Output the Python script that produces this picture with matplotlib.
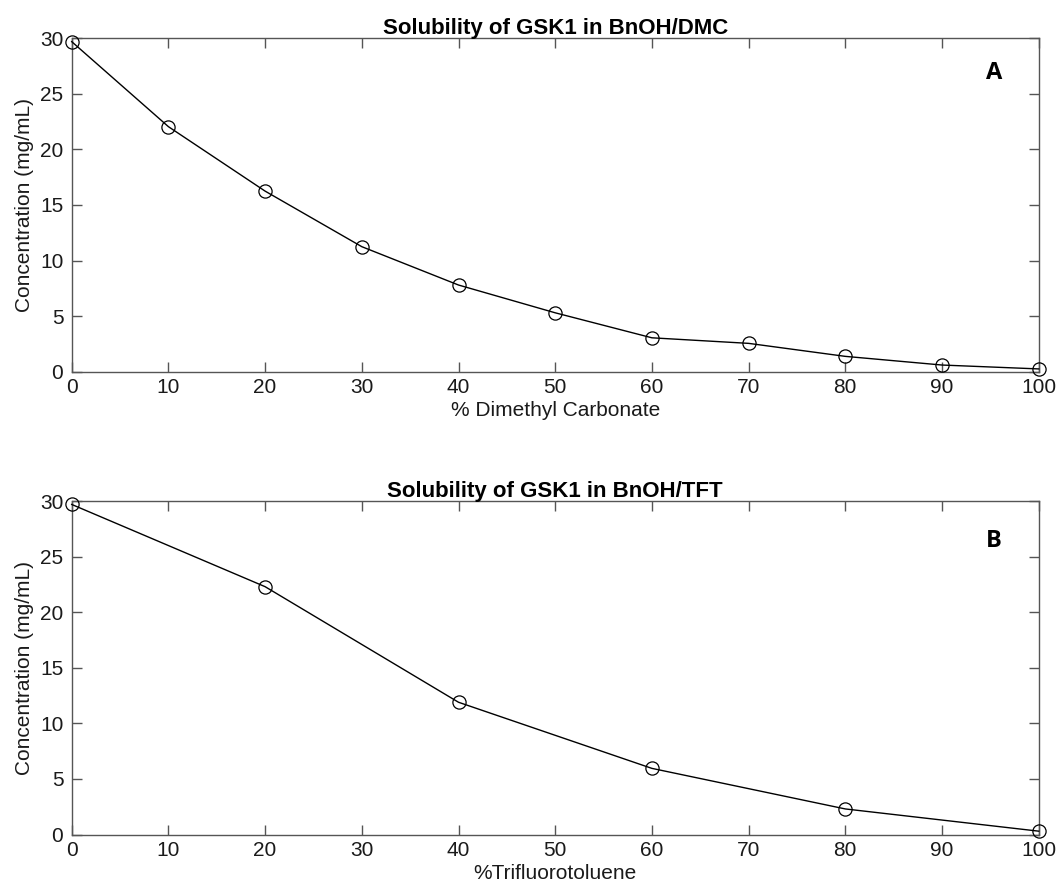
import matplotlib
matplotlib.use("Agg")
import matplotlib.pyplot as plt

# Data
x_dmc = [0, 10, 20, 30, 40, 50, 60, 70, 80, 90, 100]
y_dmc = [29.7, 22.05, 16.25, 11.25, 7.8, 5.3, 3.05, 2.55, 1.38, 0.6, 0.25]
x_tft = [0, 20, 40, 60, 80, 100]
y_tft = [29.7, 22.3, 11.9, 5.95, 2.3, 0.3]

titles = ["Solubility of GSK1 in BnOH/DMC", "Solubility of GSK1 in BnOH/TFT"]
xlabels = ["% Dimethyl Carbonate", "%Trifluorotoluene"]
ylabel = "Concentration (mg/mL)"
panel_labels = ["A", "B"]
xticks = [0, 10, 20, 30, 40, 50, 60, 70, 80, 90, 100]
yticks = [0, 5, 10, 15, 20, 25, 30]

plt.rcParams['font.family'] = ['Liberation Sans', 'DejaVu Sans']
W, H = 1058, 888
fig = plt.figure(figsize=(W / 100, H / 100), dpi=100)

left = 71.7 / W
width = 967 / W
height = 333.4 / H
bottoms = [1 - 371.7 / H, 1 - 834.5 / H]
series = [(x_dmc, y_dmc), (x_tft, y_tft)]
lab_y = [0.895, 0.88]

txtc = '#1a1a1a'
for i in range(2):
    ax = fig.add_axes([left, bottoms[i], width, height])
    xs, ys = series[i]
    ax.plot(xs, ys, color='black', lw=1.0, marker='o', markersize=9.5,
            markerfacecolor='none', markeredgecolor='black', markeredgewidth=0.9,
            clip_on=False, zorder=5)
    ax.set_xlim(0, 100)
    ax.set_ylim(0, 30)
    ax.set_xticks(xticks)
    ax.set_yticks(yticks)
    for s in ax.spines.values():
        s.set_color('#555555')
        s.set_linewidth(1.0)
    ax.tick_params(direction='in', length=7, width=1.0, color='#555555',
                   top=True, right=True, labelsize=15, labelcolor=txtc)
    ax.tick_params(axis='x', pad=4.5)
    ax.tick_params(axis='y', pad=6)
    ax.set_title(titles[i], fontsize=16, fontweight='bold', color='black', pad=3)
    ax.set_xlabel(xlabels[i], fontsize=15, color=txtc, labelpad=3)
    ax.set_ylabel(ylabel, fontsize=15, color=txtc, labelpad=4)
    ax.text(0.954, lab_y[i], panel_labels[i], transform=ax.transAxes,
            fontsize=17, fontweight='bold', family=['Open Sans', 'DejaVu Sans'],
            ha='center', va='center', color='black')

fig.savefig('out.png', dpi=100)
